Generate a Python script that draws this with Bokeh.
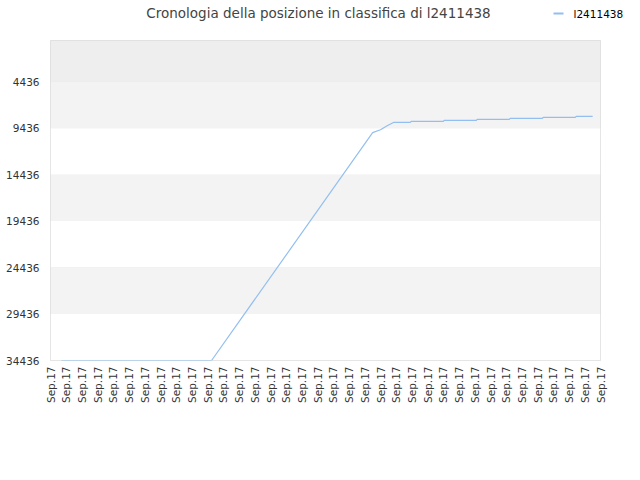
from bokeh.plotting import figure
from bokeh.models import Range1d, FixedTicker, Plot
from bokeh.layouts import column
from bokeh.core.properties import value
from bokeh.embed import file_html
from bokeh.resources import INLINE
import math

# ---- data ----
x_labels = ["Sep.17"] * 36
y_ticks = [4436, 9436, 14436, 19436, 24436, 29436, 34436]
pos_x = [0.70, 10.25, 20.5, 21.0, 21.45, 21.83, 22.9, 22.95, 25.0, 25.05, 27.1, 27.15,
         29.2, 29.25, 31.3, 31.35, 33.4, 33.45, 34.5]
pos_y = [34436, 34436, 9920, 9600, 9140, 8815, 8815, 8710, 8710, 8600, 8600, 8490,
         8490, 8385, 8385, 8280, 8280, 8170, 8170]
series_name = "l2411438"
title_text = "Cronologia della posizione in classifica di l2411438"
line_color = "#93bff0"

has_frame_align = "frame_align" in Plot.properties()

# ---- header strip: title + legend (pixel-like coordinates 0..640 x 0..40) ----
head = figure(width=640, height=40, output_backend="svg", toolbar_location=None,
              x_range=Range1d(0, 640), y_range=Range1d(0, 40),
              min_border=0, x_axis_type=None, y_axis_type=None)
if has_frame_align:
    head.frame_align = False
head.outline_line_color = None
head.xgrid.grid_line_color = None
head.ygrid.grid_line_color = None
head.text(x=[318], y=[28], text=[title_text], text_align="center", text_baseline="middle",
          text_font=value("DejaVu Sans"), text_font_size="13.5px", text_color="#444444")
# legend swatch and label
head.segment(x0=[553], y0=[27], x1=[563], y1=[27], line_color=line_color, line_width=2)
head.text(x=[573], y=[27], text=[series_name], text_align="left", text_baseline="middle",
          text_font=value("DejaVu Sans"), text_font_size="10.5px", text_color="#000000")

# ---- main chart ----
p = figure(width=640, height=440, output_backend="svg", toolbar_location=None,
           x_range=Range1d(0, len(x_labels) - 1), y_range=Range1d(y_ticks[-1], 0),
           min_border_left=50, min_border_right=40, min_border_top=0, min_border_bottom=120)
if has_frame_align:
    p.frame_align = False

p.outline_line_color = "#dddddd"
p.background_fill_color = "white"

band_tops = [0] + y_ticks[:-1]
band_bottoms = y_ticks
band_colors = ["#eeeeee"] + ["#f3f3f3" if i % 2 == 0 else "#ffffff" for i in range(len(y_ticks) - 1)]
p.quad(left=0, right=len(x_labels) - 1, top=band_tops, bottom=band_bottoms,
       fill_color=band_colors, line_color=None)

p.xgrid.grid_line_color = None
p.ygrid.grid_line_color = "#e2e2e2"
p.ygrid.level = "underlay"

p.line(pos_x, pos_y, line_color=line_color, line_width=1.2)

p.yaxis.ticker = FixedTicker(ticks=y_ticks)
p.xaxis.ticker = FixedTicker(ticks=list(range(len(x_labels))))
p.xaxis.major_label_overrides = {i: lab for i, lab in enumerate(x_labels)}
p.xaxis.major_label_orientation = math.pi / 2
for ax in (p.xaxis, p.yaxis):
    ax.axis_line_color = None
    ax.major_tick_line_color = None
    ax.minor_tick_line_color = None
    ax.major_tick_out = 0
    ax.major_tick_in = 0
    ax.major_label_text_font = "DejaVu Sans"
    ax.major_label_text_font_size = "10.5px"
    ax.major_label_text_color = "#333333"
p.yaxis.major_label_standoff = 11
p.xaxis.major_label_standoff = 6

layout = column(head, p, spacing=0)
open("out.html", "w").write(file_html(layout, INLINE))
